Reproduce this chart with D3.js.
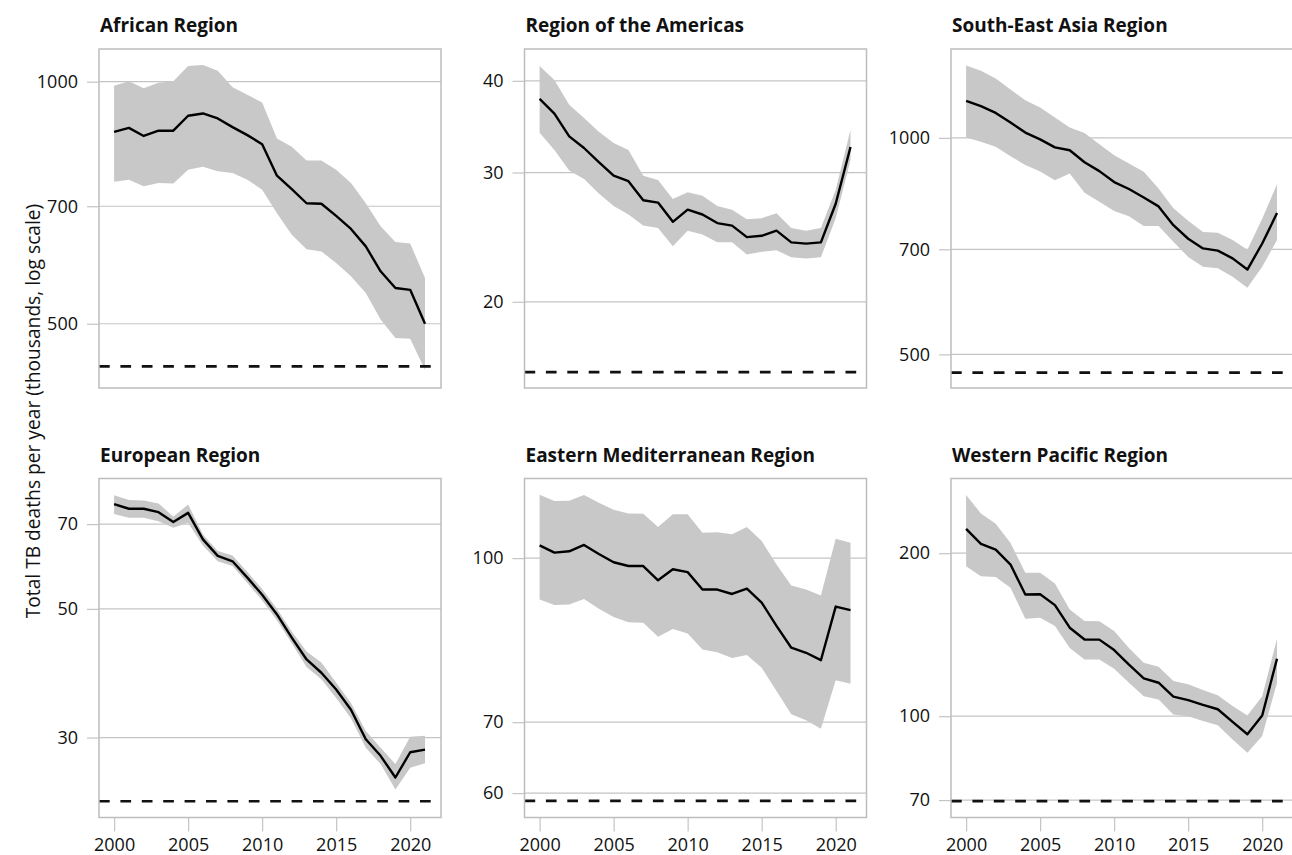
<!DOCTYPE html>
<html>
<head>
<meta charset="utf-8">
<script src="https://cdn.jsdelivr.net/npm/d3@7"></script>
<style>
  html, body { margin: 0; padding: 0; background: #fff; }
  svg { display: block; }
  text { font-family: "Open Sans", "Noto Sans", sans-serif; fill: #111; }
</style>
</head>
<body>
<svg id="chart" width="1292" height="855"></svg>
<script>
// ---------------- DATA ----------------
const years = d3.range(2000, 2022);
const regions = ["African Region", "Region of the Americas", "South-East Asia Region",
                 "European Region", "Eastern Mediterranean Region", "Western Pacific Region"];
const xTicks = [2000, 2005, 2010, 2015, 2020];

// African Region
const afrBest = [866, 876, 856, 869, 869, 907, 913, 900, 878, 858, 836, 764, 735, 706, 705, 681, 656, 624, 581, 554, 551, 500];
const afrLo   = [751, 755, 741, 748, 747, 777, 784, 774, 770, 755, 734, 686, 645, 619, 615, 595, 573, 546, 506, 480, 479, 438];
const afrHi   = [988, 1001, 981, 997, 1001, 1046, 1049, 1032, 984, 963, 942, 850, 830, 798, 798, 777, 748, 706, 661, 632, 629, 570];
const afrTarget = 442.6;
const afrTicks = [500, 700, 1000];
const afrDomain = [416, 1098];

// Region of the Americas
const amrBest = [37.8, 36.1, 33.6, 32.4, 31.0, 29.7, 29.2, 27.5, 27.3, 25.7, 26.7, 26.3, 25.6, 25.4, 24.5, 24.6, 25.0, 24.1, 24.0, 24.1, 27.2, 32.5];
const amrLo   = [34.0, 32.2, 30.2, 29.4, 28.1, 27.0, 26.3, 25.4, 25.2, 23.8, 25.0, 24.7, 24.1, 24.1, 23.2, 23.4, 23.5, 23.0, 22.9, 23.0, 26.0, 31.2];
const amrHi   = [41.9, 40.1, 37.1, 35.6, 34.1, 32.9, 32.2, 29.7, 29.3, 27.6, 28.2, 27.9, 27.0, 26.7, 25.9, 26.0, 26.4, 25.2, 25.0, 25.2, 28.4, 34.3];
const amrTarget = 16.04;
const amrTicks = [20, 30, 40];
const amrDomain = [15.26, 44.2];

// South-East Asia Region
const searBest = [1126, 1107, 1083, 1050, 1017, 995, 970, 961, 925, 899, 868, 849, 826, 803, 756, 724, 702, 697, 680, 656, 713, 786];
const searLo   = [1001, 988, 972, 943, 917, 898, 873, 892, 839, 815, 791, 778, 754, 754, 717, 683, 662, 659, 641, 619, 662, 721];
const searHi   = [1261, 1240, 1209, 1167, 1128, 1102, 1067, 1034, 1016, 980, 946, 921, 897, 850, 798, 767, 740, 738, 721, 699, 772, 862];
const searTarget = 471.7;
const searTicks = [500, 700, 1000];
const searDomain = [449, 1329];

// European Region
const eurBest = [75.8, 74.4, 74.4, 73.4, 70.6, 73.2, 65.9, 61.7, 60.4, 56.6, 52.9, 48.9, 44.6, 40.9, 38.8, 36.3, 33.5, 29.8, 27.9, 25.6, 28.3, 28.6];
const eurLo   = [72.9, 71.8, 71.8, 70.8, 69.0, 70.4, 64.3, 60.4, 59.3, 55.4, 51.7, 47.8, 43.6, 39.7, 37.8, 35.1, 32.4, 28.8, 27.0, 24.4, 26.6, 27.1];
const eurHi   = [78.5, 77.0, 76.9, 76.0, 72.1, 75.7, 67.2, 62.9, 61.8, 57.9, 54.1, 50.0, 45.7, 42.2, 40.4, 37.3, 34.4, 30.8, 28.8, 27.0, 30.1, 30.2];
const eurTarget = 23.3;
const eurTicks = [30, 50, 70];
const eurDomain = [21.84, 83.9];

// Eastern Mediterranean Region
const emrBest = [102.8, 101.2, 101.5, 102.9, 100.9, 99.1, 98.3, 98.3, 95.3, 97.6, 97.0, 93.4, 93.4, 92.5, 93.6, 90.8, 86.3, 82.3, 81.4, 80.1, 90.0, 89.3];
const emrLo   = [91.4, 90.3, 90.4, 91.5, 89.6, 88.0, 87.0, 86.9, 84.3, 85.7, 84.9, 82.0, 81.5, 80.5, 81.0, 78.8, 74.9, 71.2, 70.3, 69.0, 76.7, 76.1];
const emrHi   = [114.8, 113.2, 113.3, 114.7, 112.8, 111.1, 110.2, 110.1, 107.0, 110.0, 110.0, 105.7, 105.8, 105.3, 107.0, 103.8, 98.6, 94.2, 93.4, 92.2, 104.3, 103.4];
const emrTarget = 59.0;
const emrTicks = [60, 70, 100];
const emrDomain = [56.9, 118.9];

// Western Pacific Region
const wprBest = [221.8, 208.1, 203.1, 190.6, 167.8, 168.0, 160.4, 145.7, 138.6, 138.5, 132.5, 124.5, 117.5, 115.3, 108.7, 107.1, 104.9, 103.0, 97.6, 92.6, 100.3, 127.7];
const wprLo   = [189.2, 181.3, 180.7, 172.7, 151.3, 152.0, 146.7, 133.7, 127.3, 127.3, 122.4, 115.3, 108.9, 107.4, 100.7, 100.0, 98.0, 96.2, 90.6, 85.6, 91.9, 115.3];
const wprHi   = [256.3, 236.8, 226.8, 208.9, 184.0, 184.0, 175.9, 157.4, 149.9, 149.8, 143.6, 133.7, 125.5, 123.4, 116.1, 114.5, 111.8, 109.3, 104.4, 100.3, 108.9, 139.0];
const wprTarget = 69.7;
const wprTicks = [70, 100, 200];
const wprDomain = [65.0, 274.8];

const yLabel = "Total TB deaths per year (thousands, log scale)";

// --------------- PANELS ----------------
const panels = [
  {name: regions[0], best: afrBest, lo: afrLo, hi: afrHi, target: afrTarget, ticks: afrTicks, domain: afrDomain},
  {name: regions[1], best: amrBest, lo: amrLo, hi: amrHi, target: amrTarget, ticks: amrTicks, domain: amrDomain},
  {name: regions[2], best: searBest, lo: searLo, hi: searHi, target: searTarget, ticks: searTicks, domain: searDomain},
  {name: regions[3], best: eurBest, lo: eurLo, hi: eurHi, target: eurTarget, ticks: eurTicks, domain: eurDomain},
  {name: regions[4], best: emrBest, lo: emrLo, hi: emrHi, target: emrTarget, ticks: emrTicks, domain: emrDomain},
  {name: regions[5], best: wprBest, lo: wprLo, hi: wprHi, target: wprTarget, ticks: wprTicks, domain: wprDomain}
];

const svg = d3.select("#chart");
const boxW = 342, boxH = 339;
const colX = [99, 524.5, 951];
const rowY = [49, 478.5];
const tickFont = "18px";

panels.forEach((p, i) => {
  const col = i % 3, row = Math.floor(i / 3);
  const g = svg.append("g").attr("transform", `translate(${colX[col]},${rowY[row]})`);

  const x = d3.scaleLinear().domain([1998.98, 2022.08]).range([0, boxW]);
  const y = d3.scaleLog().domain(p.domain).range([boxH, 0]);

  // gridlines
  g.append("g").selectAll("line").data(p.ticks).join("line")
    .attr("x1", 0).attr("x2", boxW)
    .attr("y1", d => y(d)).attr("y2", d => y(d))
    .attr("stroke", "#c4c4c4").attr("stroke-width", 1.2);

  // y axis (ticks + labels)
  const yAxis = d3.axisLeft(y).tickValues(p.ticks).tickFormat(d3.format("d"))
    .tickSize(12).tickPadding(9);
  const ya = g.append("g").call(yAxis);
  ya.select(".domain").remove();
  ya.selectAll(".tick line").attr("stroke", "#c4c4c4").attr("stroke-width", 1.2);
  ya.selectAll(".tick text").style("font-size", tickFont).attr("fill", "#111")
    .style("font-family", "'Open Sans', 'Noto Sans', sans-serif");

  // x axis bottom row only
  if (row === 1) {
    const xAxis = d3.axisBottom(x).tickValues(xTicks).tickFormat(d3.format("d"))
      .tickSize(14).tickPadding(7);
    const xa = g.append("g").attr("transform", `translate(0,${boxH})`).call(xAxis);
    xa.select(".domain").remove();
    xa.selectAll(".tick line").attr("stroke", "#c4c4c4").attr("stroke-width", 1.2);
    xa.selectAll(".tick text").style("font-size", tickFont).attr("fill", "#111")
      .style("font-family", "'Open Sans', 'Noto Sans', sans-serif");
  }

  // uncertainty band
  const rows = years.map((yr, k) => ({yr, best: p.best[k], lo: p.lo[k], hi: p.hi[k]}));
  g.append("path").datum(rows)
    .attr("d", d3.area().x(d => x(d.yr)).y0(d => y(d.lo)).y1(d => y(d.hi)))
    .attr("fill", "#c8c8c8");

  // target line
  g.append("line")
    .attr("x1", 0).attr("x2", boxW)
    .attr("y1", y(p.target)).attr("y2", y(p.target))
    .attr("stroke", "#111").attr("stroke-width", 2.6)
    .attr("stroke-dasharray", "10.7,10.7");

  // best estimate line
  g.append("path").datum(rows)
    .attr("d", d3.line().x(d => x(d.yr)).y(d => y(d.best)))
    .attr("fill", "none").attr("stroke", "#000").attr("stroke-width", 2.4)
    .attr("stroke-linejoin", "round");

  // frame
  g.append("rect").attr("x", 0).attr("y", 0).attr("width", boxW).attr("height", boxH)
    .attr("fill", "none").attr("stroke", "#bdbdbd").attr("stroke-width", 1.5);

  // title
  g.append("text").attr("x", 1).attr("y", -17)
    .text(p.name)
    .style("font-weight", "bold").style("font-size", "19px").attr("fill", "#000");
});

// y-axis label
svg.append("text")
  .attr("transform", "translate(40,411) rotate(-90)")
  .attr("text-anchor", "middle")
  .style("font-size", "19.2px")
  .text(yLabel);
</script>
</body>
</html>
